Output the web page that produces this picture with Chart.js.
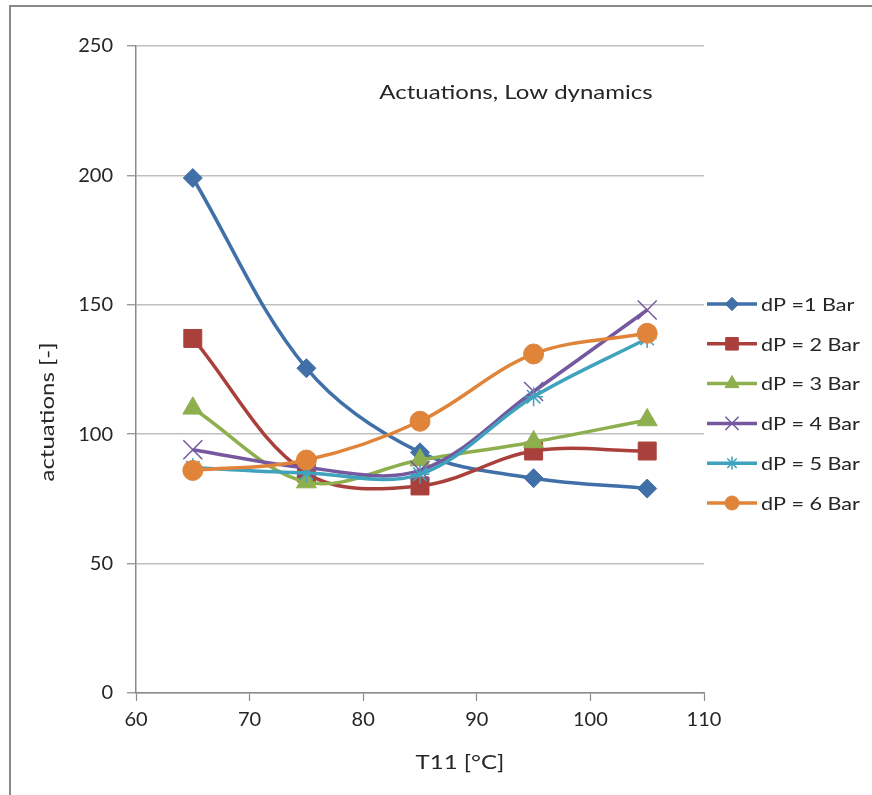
<!DOCTYPE html>
<html>
<head>
<meta charset="utf-8">
<title>Actuations, Low dynamics</title>
<script src="https://cdn.jsdelivr.net/npm/chart.js@4.4.1/dist/chart.umd.min.js"></script>
<style>
  html, body { margin:0; padding:0; background:#fff; }
  #wrap { position:relative; width:872px; height:795px; }
</style>
</head>
<body>
<div id="wrap"><canvas id="chart" width="872" height="795"></canvas></div>
<script>
// data
const temps = [65, 75, 85, 95, 105];
const seriesNames = ["dP =1 Bar", "dP = 2 Bar", "dP = 3 Bar", "dP = 4 Bar", "dP = 5 Bar", "dP = 6 Bar"];
const dp1 = [199, 125.5, 93, 83, 79];
const dp2 = [137, 85, 80, 93.5, 93.5];
const dp3 = [110, 81.5, 90, 97, 105.5];
const dp4 = [94, 87, 86, 116.5, 148];
const dp5 = [87, 85, 84.5, 114.5, 137];
const dp6 = [86, 90, 105, 131, 139];
const yTicks = [0, 50, 100, 150, 200, 250];
const xTicks = [60, 70, 80, 90, 100, 110];

const chartTitle = "Actuations, Low dynamics";
const xTitle = "T11 [°C]";
const yTitle = "actuations [-]";

const FONT = "Lato, 'Open Sans', sans-serif";
const TXT = "#262626";
const STRETCH = 1.2; // the original text is wider than Lato

const styles = [
  { color:"#4170A8", point:"rectRot",  r:9.5, bw:1 },
  { color:"#AA403C", point:"rect",     r:12.7, bw:1 },
  { color:"#8DAF4E", point:"triangle", r:11.5, bw:1 },
  { color:"#7558A0", point:"crossRot", r:13.4, bw:1.5 },
  { color:"#3FA3BE", point:"star",     r:9.5, bw:1.5 },
  { color:"#E0843A", point:"circle",   r:10, bw:1 }
];
const allValues = [dp1, dp2, dp3, dp4, dp5, dp6];

const datasets = allValues.map((vals, i) => ({
  label: seriesNames[i],
  data: temps.map((t, j) => ({ x: t, y: vals[j] })),
  borderColor: styles[i].color,
  backgroundColor: styles[i].color,
  pointBackgroundColor: styles[i].color,
  pointBorderColor: styles[i].color,
  pointBorderWidth: styles[i].bw,
  pointStyle: styles[i].point,
  pointRadius: styles[i].r,
  borderWidth: 3.5,
  tension: 0.35,
  order: allValues.length - 1 - i
}));

function wideText(ctx, text, x, y, align){
  ctx.save();
  ctx.translate(x, y);
  ctx.scale(STRETCH, 1);
  ctx.textAlign = align;
  ctx.fillText(text, 0, 0);
  ctx.restore();
}

// frame, titles and the legend drawn by hand to sit where the original has them
const decor = {
  id: "decor",
  beforeDraw(chart){
    const ctx = chart.ctx;
    ctx.save();
    ctx.fillStyle = "#fff";
    ctx.fillRect(0, 0, chart.width, chart.height);
    ctx.strokeStyle = "#8a8a8a";
    ctx.lineWidth = 2;
    ctx.beginPath();
    ctx.moveTo(10, chart.height + 5);
    ctx.lineTo(10, 6);
    ctx.lineTo(chart.width + 5, 6);
    ctx.stroke();
    ctx.restore();
  },
  afterDraw(chart){
    const ctx = chart.ctx;
    ctx.save();
    ctx.fillStyle = TXT;
    ctx.textBaseline = "middle";
    ctx.font = "20px " + FONT;
    wideText(ctx, chartTitle, 516, 93, "center");
    wideText(ctx, xTitle, 460, 763, "center");
    ctx.save();
    ctx.translate(48, 412);
    ctx.rotate(-Math.PI / 2);
    wideText(ctx, yTitle, 0, 0, "center");
    ctx.restore();

    // legend
    ctx.font = "18px " + FONT;
    chart.data.datasets.forEach((ds, i) => {
      const y = 304 + i * 39.8;
      ctx.strokeStyle = ds.borderColor;
      ctx.lineWidth = 3.5;
      ctx.beginPath();
      ctx.moveTo(707, y);
      ctx.lineTo(757, y);
      ctx.stroke();
      ctx.fillStyle = ds.pointBackgroundColor;
      ctx.strokeStyle = ds.pointBorderColor;
      ctx.lineWidth = ds.pointBorderWidth;
      Chart.helpers.drawPoint(ctx, { pointStyle: ds.pointStyle, radius: ds.pointRadius * 0.7, rotation: 0, borderWidth: ds.pointBorderWidth }, 732, y);
      ctx.fillStyle = TXT;
      wideText(ctx, ds.label, 761, y + 1, "left");
    });
    ctx.restore();
  }
};

new Chart(document.getElementById("chart"), {
  type: "line",
  data: { datasets },
  options: {
    responsive: false,
    animation: false,
    layout: { padding: { left: 0, top: 46, right: 168, bottom: 0 } },
    plugins: { legend: { display: false }, tooltip: { enabled: false } },
    scales: {
      x: {
        type: "linear",
        min: 60, max: 110,
        afterBuildTicks(s){ s.ticks = xTicks.map(v => ({ value: v })); },
        afterFit(s){ s.height = 102; },
        grid: { drawOnChartArea: false, tickLength: 8, tickColor: "#8a8a8a", tickWidth: 1.2 },
        border: { color: "#8a8a8a", width: 1.5 },
        ticks: { color: TXT, font: { family: FONT, size: 20 }, padding: 7, maxRotation: 0 }
      },
      y: {
        min: 0, max: 250,
        afterBuildTicks(s){ s.ticks = yTicks.map(v => ({ value: v })); },
        afterFit(s){ s.width = 136; },
        grid: { color: "#bfbfbf", lineWidth: 1.5, tickLength: 9, tickColor: "#8a8a8a", tickWidth: 1.2 },
        border: { color: "#8a8a8a", width: 1.5 },
        ticks: { color: TXT, font: { family: FONT, size: 20 }, padding: 14 }
      }
    }
  },
  plugins: [decor]
});
</script>
</body>
</html>
